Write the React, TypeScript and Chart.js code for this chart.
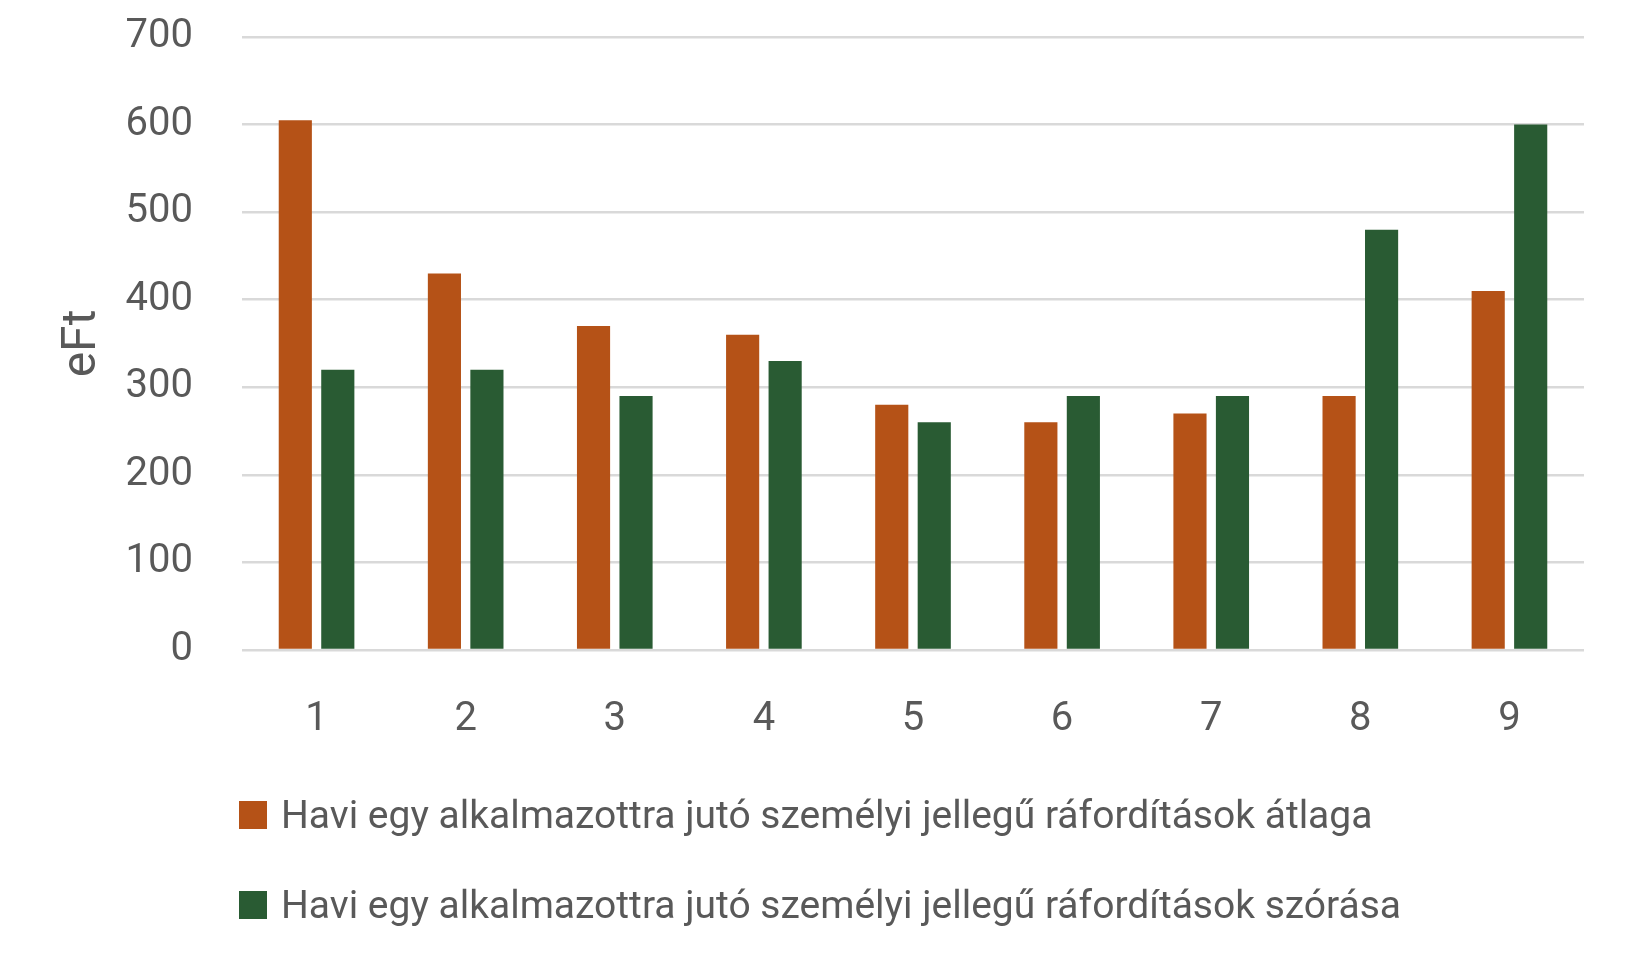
import React, { useEffect, useRef } from "react";
import { Chart, registerables } from "chart.js";

Chart.register(...registerables);

const categories = ["1", "2", "3", "4", "5", "6", "7", "8", "9"];
const seriesNames = [
  "Havi egy alkalmazottra jutó személyi jellegű ráfordítások átlaga",
  "Havi egy alkalmazottra jutó személyi jellegű ráfordítások szórása",
];
const averageValues = [605, 430, 370, 360, 280, 260, 270, 290, 410];
const deviationValues = [320, 320, 290, 330, 260, 290, 290, 480, 600];
const seriesColors = ["#B55217", "#295B33"];
const yTicks = [0, 100, 200, 300, 400, 500, 600, 700];
const yTitle = "eFt";

const FONT = "Roboto, 'Noto Sans', sans-serif";
const TEXT = "#595959";

export default function App() {
  const canvasRef = useRef<HTMLCanvasElement | null>(null);

  useEffect(() => {
    document.body.style.margin = "0";
    const canvas = canvasRef.current;
    if (!canvas) return;
    const chart = new Chart(canvas, {
      type: "bar",
      data: {
        labels: categories,
        datasets: [
          {
            label: seriesNames[0],
            data: averageValues,
            backgroundColor: seriesColors[0],
            categoryPercentage: 0.57,
            barPercentage: 0.78,
          },
          {
            label: seriesNames[1],
            data: deviationValues,
            backgroundColor: seriesColors[1],
            categoryPercentage: 0.57,
            barPercentage: 0.78,
          },
        ],
      },
      options: {
        animation: false,
        responsive: false,
        maintainAspectRatio: false,
        layout: { padding: { top: 37, right: 48, bottom: 220, left: 0 } },
        plugins: {
          legend: { display: false },
          tooltip: { enabled: false },
        },
        scales: {
          x: {
            grid: { display: false },
            border: { display: false },
            afterFit: (scale: any) => {
              scale.height = 90;
            },
            ticks: {
              color: TEXT,
              font: { family: FONT, size: 40 },
              padding: 38,
            },
          },
          y: {
            min: 0,
            max: 700,
            afterBuildTicks: (scale: any) => {
              scale.ticks = yTicks.map((v) => ({ value: v }));
            },
            afterFit: (scale: any) => {
              scale.width = 242;
            },
            grid: {
              color: "#D9D9D9",
              lineWidth: 2.5,
              drawTicks: true,
              tickLength: 49,
              tickColor: "rgba(0,0,0,0)",
            },
            border: { display: false },
            ticks: {
              color: TEXT,
              font: { family: FONT, size: 40 },
              padding: 0,
            },
            title: {
              display: true,
              text: yTitle,
              color: TEXT,
              font: { family: FONT, size: 48 },
              padding: { top: 54, bottom: 0 },
            },
          },
        },
      },
    });
    return () => chart.destroy();
  }, []);

  return (
    <div style={{ position: "relative", width: 1632, height: 960, fontFamily: FONT }}>
      <canvas ref={canvasRef} width={1632} height={960} style={{ display: "block" }} />
      {seriesNames.map((name, i) => (
        <div
          key={name}
          style={{
            position: "absolute",
            left: 239,
            top: 793 + i * 90,
            height: 44,
            display: "flex",
            alignItems: "center",
            whiteSpace: "nowrap",
          }}
        >
          <span
            style={{
              display: "inline-block",
              width: 28,
              height: 28,
              background: seriesColors[i],
              marginRight: 14,
            }}
          />
          <span style={{ fontSize: 39, color: TEXT }}>{name}</span>
        </div>
      ))}
    </div>
  );
}
